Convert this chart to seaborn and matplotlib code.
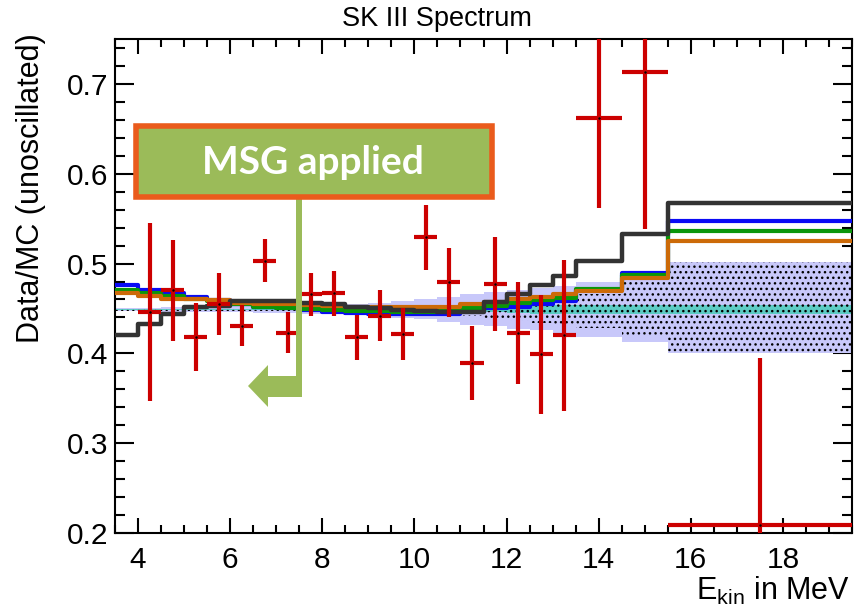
import numpy as np
import pandas as pd
import matplotlib
matplotlib.use("Agg")
import matplotlib.pyplot as plt
import seaborn as sns
from matplotlib.patches import Rectangle, Polygon
from matplotlib.ticker import MultipleLocator, FormatStrFormatter

# ---------------- data ----------------
bin_edges = [3.5, 4.0, 4.5, 5.0, 5.5, 6.0, 6.5, 7.0, 7.5, 8.0, 8.5, 9.0, 9.5,
             10.0, 10.5, 11.0, 11.5, 12.0, 12.5, 13.0, 13.5, 14.5, 15.5, 19.5]

pred_black = [0.421, 0.433, 0.444, 0.452, 0.453, 0.458, 0.458, 0.458, 0.456, 0.455, 0.452, 0.450,
              0.448, 0.447, 0.446, 0.446, 0.457, 0.466, 0.476, 0.486, 0.503, 0.533, 0.567]
pred_blue = [0.476, 0.471, 0.467, 0.463, 0.459, 0.455, 0.452, 0.450, 0.448, 0.446, 0.445, 0.444,
             0.444, 0.444, 0.444, 0.448, 0.450, 0.452, 0.455, 0.458, 0.470, 0.489, 0.547]
pred_green = [0.470, 0.467, 0.464, 0.461, 0.458, 0.455, 0.452, 0.451, 0.449, 0.448, 0.447, 0.447,
              0.446, 0.446, 0.447, 0.450, 0.453, 0.456, 0.459, 0.462, 0.472, 0.487, 0.536]
pred_orange = [0.467, 0.464, 0.461, 0.460, 0.459, 0.456, 0.455, 0.455, 0.454, 0.453, 0.452, 0.452,
               0.452, 0.452, 0.452, 0.455, 0.457, 0.460, 0.463, 0.466, 0.469, 0.484, 0.525]

band_lo = [0.447, 0.447, 0.4465, 0.446, 0.446, 0.4455, 0.445, 0.4445, 0.444, 0.4435, 0.4425, 0.4415,
           0.4395, 0.438, 0.435, 0.432, 0.430, 0.4275, 0.4255, 0.423, 0.4185, 0.4125, 0.400]
band_hi = [0.451, 0.451, 0.4515, 0.452, 0.452, 0.4525, 0.453, 0.4535, 0.454, 0.4545, 0.4555, 0.4565,
           0.4585, 0.460, 0.463, 0.466, 0.468, 0.4705, 0.4725, 0.475, 0.4795, 0.4855, 0.502]

dots_lo = [0.447, 0.447, 0.447, 0.447, 0.447, 0.447, 0.447, 0.447, 0.447, 0.447, 0.447, 0.447,
           0.447, 0.447, 0.447, 0.442, 0.438, 0.436, 0.434, 0.432, 0.428, 0.418, 0.400]
dots_hi = [0.450, 0.450, 0.450, 0.450, 0.450, 0.450, 0.450, 0.450, 0.450, 0.450, 0.450, 0.450,
           0.450, 0.450, 0.450, 0.447, 0.447, 0.452, 0.455, 0.457, 0.466, 0.481, 0.502]

teal_lo = [0.448, 0.448, 0.448, 0.448, 0.448, 0.448, 0.448, 0.448, 0.448, 0.448, 0.448, 0.448,
           0.448, 0.448, 0.448, 0.447, 0.446, 0.4445, 0.4435, 0.4435, 0.4435, 0.4435, 0.4435]
teal_hi = [0.4495, 0.4495, 0.4495, 0.4495, 0.4495, 0.4495, 0.4495, 0.4495, 0.4495, 0.4495, 0.4495, 0.4495,
           0.4495, 0.4495, 0.4495, 0.450, 0.451, 0.4525, 0.4535, 0.4535, 0.4535, 0.4535, 0.4535]

data_x = [4.25, 4.75, 5.25, 5.75, 6.25, 6.75, 7.25, 7.75, 8.25, 8.75, 9.25, 9.75, 10.25, 10.75,
          11.25, 11.75, 12.25, 12.75, 13.25, 14.0, 15.0, 17.5]
data_xerr = [0.25, 0.25, 0.25, 0.25, 0.25, 0.25, 0.25, 0.25, 0.25, 0.25, 0.25, 0.25, 0.25, 0.25,
             0.25, 0.25, 0.25, 0.25, 0.25, 0.5, 0.5, 2.0]
data_y = [0.446, 0.470, 0.418, 0.455, 0.431, 0.503, 0.423, 0.466, 0.467, 0.418, 0.442, 0.422, 0.529,
          0.479, 0.389, 0.477, 0.423, 0.399, 0.420, 0.662, 0.713, 0.209]
data_yerr = [0.099, 0.056, 0.038, 0.034, 0.023, 0.024, 0.023, 0.024, 0.025, 0.025, 0.028, 0.029, 0.036,
             0.038, 0.041, 0.052, 0.057, 0.066, 0.084, 0.100, 0.175, 0.186]

x_ticks = [4, 6, 8, 10, 12, 14, 16, 18]
y_ticks = [0.2, 0.3, 0.4, 0.5, 0.6, 0.7]

title_text = "SK III Spectrum"
xlabel_text = r"E$_{\mathrm{kin}}$ in MeV"
ylabel_text = "Data/MC (unoscillated)"
box_text = "MSG applied"

# ---------------- style ----------------
sns.set_theme(style="ticks")
plt.rcParams["font.family"] = ["Liberation Sans", "DejaVu Sans"]
plt.rcParams["mathtext.fontset"] = "custom"
plt.rcParams["mathtext.rm"] = "Liberation Sans"
plt.rcParams["hatch.color"] = "black"
plt.rcParams["hatch.linewidth"] = 1.0

W, H = 855, 614
fig = plt.figure(figsize=(W / 100, H / 100), dpi=100)
ax = fig.add_axes([115 / W, (H - 533) / H, (852 - 115) / W, (533 - 39) / H])

def ext(v):
    return list(v) + [v[-1]]

ax.fill_between(bin_edges, ext(band_lo), ext(band_hi), step="post",
                facecolor="#c8c8fa", edgecolor="none", lw=0, zorder=1)
ax.fill_between(bin_edges, ext(teal_lo), ext(teal_hi), step="post",
                facecolor="#5cccc4", edgecolor="none", lw=0, zorder=2)
ax.fill_between(bin_edges, ext(dots_lo), ext(dots_hi), step="post",
                facecolor="none", edgecolor="black", lw=0, hatch="...", zorder=3)

lines = pd.DataFrame({
    "E": bin_edges * 4,
    "ratio": ext(pred_blue) + ext(pred_green) + ext(pred_orange) + ext(pred_black),
    "model": ["blue"] * 24 + ["green"] * 24 + ["orange"] * 24 + ["black"] * 24,
})
line_colors = {"blue": "#0a0af5", "green": "#0a960a", "orange": "#cc6a08", "black": "#333333"}
line_widths = {"blue": 3.0, "green": 3.0, "orange": 3.0, "black": 3.2}
for z, m in enumerate(["blue", "green", "orange", "black"]):
    sub = lines[lines["model"] == m]
    sns.lineplot(data=sub, x="E", y="ratio", ax=ax, color=line_colors[m],
                 lw=line_widths[m], drawstyle="steps-post", estimator=None,
                 sort=False, legend=False, zorder=4 + z)

ax.errorbar(data_x, data_y, xerr=data_xerr, yerr=data_yerr, fmt="none",
            ecolor="#cc0000", elinewidth=3.0, capsize=0, zorder=9)
pts = pd.DataFrame({"E": data_x, "ratio": data_y})
sns.scatterplot(data=pts, x="E", y="ratio", ax=ax, color="black", s=3,
                linewidth=0, zorder=10)

ax.set_xlim(3.5, 19.5)
ax.set_ylim(0.2, 0.75)
ax.set_xticks(x_ticks)
ax.set_yticks(y_ticks)
ax.xaxis.set_minor_locator(MultipleLocator(0.5))
ax.yaxis.set_minor_locator(MultipleLocator(0.02))
ax.yaxis.set_major_formatter(FormatStrFormatter("%.1f"))
ax.set_xlabel("")
ax.set_ylabel("")
for s in ax.spines.values():
    s.set_visible(True)
    s.set_linewidth(1.5)
    s.set_color("black")
ax.tick_params(axis="both", which="both", direction="in", top=True, right=True,
               colors="black", width=1.5, labelsize=21.5)
ax.tick_params(axis="x", which="major", length=11, pad=9)
ax.tick_params(axis="x", which="minor", length=5.5)
ax.tick_params(axis="y", which="major", length=14, pad=5)
ax.tick_params(axis="y", which="minor", length=7.5)
ax.grid(False)

def fx(p):
    return p / W

def fy(p):
    return 1 - p / H

fig.text(fx(437), fy(19), title_text, ha="center", va="center", fontsize=19.5, color="black")
fig.text(fx(850), fy(600), xlabel_text, ha="right", va="baseline", fontsize=22, color="black")
fig.text(fx(31), fy(33), ylabel_text, ha="center", va="top", rotation=90, fontsize=22, color="black")

# annotation box and arrow
green = "#9bbb59"
fig.add_artist(Rectangle((fx(299) - 3 / W, fy(396)), 6 / W, (396 - 198) / H,
                         transform=fig.transFigure, facecolor=green, edgecolor="none", zorder=20))
fig.add_artist(Rectangle((fx(267), fy(397)), (302 - 267) / W, (397 - 376) / H,
                         transform=fig.transFigure, facecolor=green, edgecolor="none", zorder=20))
fig.add_artist(Polygon([(fx(248), fy(386)), (fx(268), fy(365)), (fx(268), fy(407))],
                       closed=True, transform=fig.transFigure, facecolor=green,
                       edgecolor="none", zorder=20))
fig.add_artist(Rectangle((fx(135.5), fy(196.5)), (492 - 135.5) / W, (196.5 - 126) / H,
                         transform=fig.transFigure, facecolor=green, edgecolor="#ea5b1c",
                         lw=4.0, zorder=21))
fig.text(fx(313), fy(162), box_text, ha="center", va="center", color="white",
         fontsize=28, fontweight="bold", family=["Lato", "DejaVu Sans"], zorder=22)

fig.savefig("out.png", dpi=100)
